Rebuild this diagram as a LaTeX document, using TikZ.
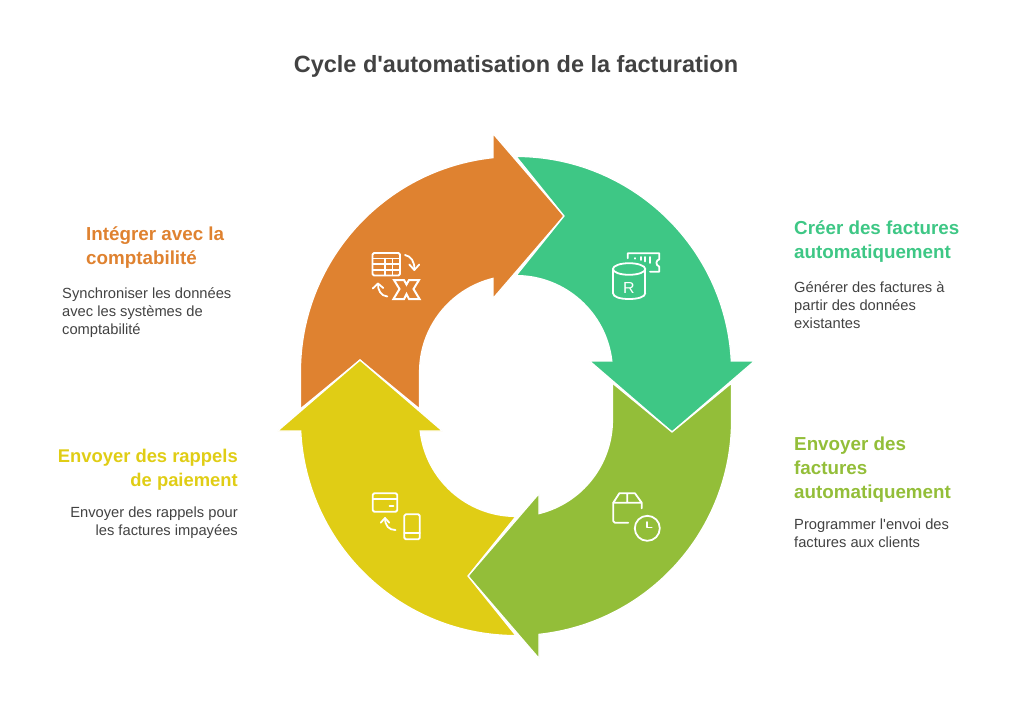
\documentclass[tikz,border=0pt]{standalone}
\usepackage{fontspec}
\setmainfont{Liberation Sans}
\definecolor{inkgray}{HTML}{424242}
\definecolor{cyorange}{HTML}{DF8230}
\definecolor{cygreen}{HTML}{3EC785}
\definecolor{cylime}{HTML}{93BE39}
\definecolor{cyyellow}{HTML}{E0CD15}
\tikzset{
  band/.style={draw=white,line width=1.3pt,miter limit=20},
  icon/.style={draw=white,line width=1.8pt,line cap=round,line join=round},
  head/.style={inner sep=0pt,font=\bfseries\fontsize{18.8}{24}\selectfont},
  body/.style={inner sep=0pt,text=inkgray,font=\fontsize{14.7}{18}\selectfont},
}
\begin{document}
\begin{tikzpicture}[x=1pt,y=-1pt]
	\useasboundingbox (0,0) rectangle (1032,721);
	\begin{scope}[shift={(0,721)},y=1pt]
		\fill[band,fill=cyorange] (300.4,312) -- (300.4,349) arc[start angle=180,end angle=96.12,radius=215.6pt] -- (493,587.5) -- (564,505) -- (493,422.5) -- (493,442.6) arc[start angle=103.8,end angle=180,radius=96.4pt] -- (419.6,312) -- (360,361) -- cycle;
		\fill[band,fill=cygreen] (516,564.6) arc[start angle=90,end angle=2.92,radius=215.6pt] -- (754.5,360) -- (672,289) -- (589.5,360) -- (611.8,360) arc[start angle=6.55,end angle=90,radius=96.4pt] -- (564,505) -- cycle;
		\fill[band,fill=cylime] (731.6,338) -- (731.6,301) arc[start angle=0,end angle=-83.87,radius=215.6pt] -- (539,62.5) -- (468,145) -- (539,227.5) -- (539,207.4) arc[start angle=-76.2,end angle=0,radius=96.4pt] -- (612.4,338) -- (672,289) -- cycle;
		\fill[band,fill=cyyellow] (516,85.4) arc[start angle=270,end angle=182.92,radius=215.6pt] -- (277.5,290) -- (360,361) -- (442.5,290) -- (420.2,290) arc[start angle=186.55,end angle=270,radius=96.4pt] -- (468,145) -- cycle;
	\end{scope}

	\node[inner sep=0pt,text=inkgray,font=\bfseries\fontsize{23.5}{28}\selectfont] (title) at (516,66) {Cycle d\textquotesingle automatisation de la facturation};

	\node[head,text=cygreen,anchor=north west,align=left] (createhead) at (794,220.5) {Créer des factures\\automatiquement};
	\node[body,anchor=north west,align=left] (createtext) at (794,281.5) {Générer des factures à\\partir des données\\existantes};
	\node[head,text=cylime,anchor=north west,align=left] (sendhead) at (794,436.5) {Envoyer des\\factures\\automatiquement};
	\node[body,anchor=north west,align=left] (sendtext) at (794,518.5) {Programmer l\textquotesingle envoi des\\factures aux clients};
	\node[head,text=cyyellow,anchor=north east,align=right,font=\bfseries\fontsize{18.4}{24}\selectfont] (remindhead) at (238,448.5) {Envoyer des rappels\\de paiement};
	\node[body,anchor=north east,align=right] (remindtext) at (238,506.5) {Envoyer des rappels pour\\les factures impayées};
	\node[head,text=cyorange,anchor=north west,align=left] (synchead) at (86,226.5) {Intégrer avec la\\comptabilité};
	\node[body,anchor=north west,align=left] (synctext) at (62,287.5) {Synchroniser les données\\avec les systèmes de\\comptabilité};

	\draw[icon,rounded corners=1.5pt] (372.5,253) rectangle (400,275.5);
	\draw[icon,line width=1.4pt] (372.5,258.5) -- (400,258.5) (372.5,264) -- (400,264) (372.5,270) -- (400,270) (385,258.5) -- (385,275.5) (392.7,258.5) -- (392.7,275.5);
	\draw[icon] (405,255) .. controls (411,256) and (415,262) .. (414.3,270);
	\draw[icon] (409.3,264.5) -- (414.3,270) -- (419.3,264.5);
	\draw[icon] (387.3,296.5) .. controls (381,296) and (377.5,290) .. (378,283.5);
	\draw[icon] (372.7,288.5) -- (378,283.5) -- (383.3,288);
	\draw[icon,line cap=butt,line join=miter,line width=2pt] (394,280) -- (404,280) -- (406.5,284.5) -- (409,280) -- (419,280) -- (413.5,289) -- (419.5,299) -- (409,299) -- (406.5,294) -- (404,299) -- (393.5,299) -- (399.5,289) -- cycle;

	\draw[icon] (612.9,269) -- (612.9,293) (645.3,269) -- (645.3,293);
	\draw[icon] (629.1,269) ellipse[x radius=16.2pt,y radius=5.8pt];
	\draw[icon] (612.9,293) .. controls (613,297) and (620,299) .. (629.1,299) .. controls (638,299) and (645.2,297) .. (645.3,293);
	\node[inner sep=0pt,text=white,font=\fontsize{16}{16}\selectfont] (dbletter) at (628.8,288) {R};
	\draw[icon] (627.7,258.3) -- (627.7,253.3) -- (659.3,253.3) -- (659.3,259.3) .. controls (656,260) and (655,265) .. (659.3,266.7) -- (659.3,271.7) -- (650,271.7);
	\draw[icon] (635,258) -- (635,258.6) (640.7,257) -- (640.7,260) (645,257) -- (645,261.5) (650,257) -- (650,263);

	\draw[icon] (613.3,502.7) -- (619.3,493.3) -- (635,493.3) -- (641.7,502.7) -- (641.7,508.3) (613.3,502.7) -- (641.7,502.7) (627.3,493.3) -- (627.3,502.7);
	\draw[icon,rounded corners=1.5pt] (613.3,502.7) -- (613.3,522.7) -- (628.3,522.7);
	\draw[icon] (647.3,528.3) circle[radius=12.5pt];
	\draw[icon] (647.3,522) -- (647.3,527.5) -- (651.7,527.5);

	\draw[icon,rounded corners=1.5pt] (372.7,493.3) rectangle (397.3,511.7);
	\draw[icon] (372.7,499) -- (397.3,499) (389.5,506) -- (393.5,506);
	\draw[icon,rounded corners=1.5pt] (404.3,514.3) rectangle (419.8,539.3);
	\draw[icon] (404.3,532.7) -- (419.8,532.7);
	\draw[icon] (395.5,530) .. controls (389,530) and (385,526) .. (385,518);
	\draw[icon] (380.7,522.7) -- (385,518) -- (389.3,522.7);
\end{tikzpicture}
\end{document}
